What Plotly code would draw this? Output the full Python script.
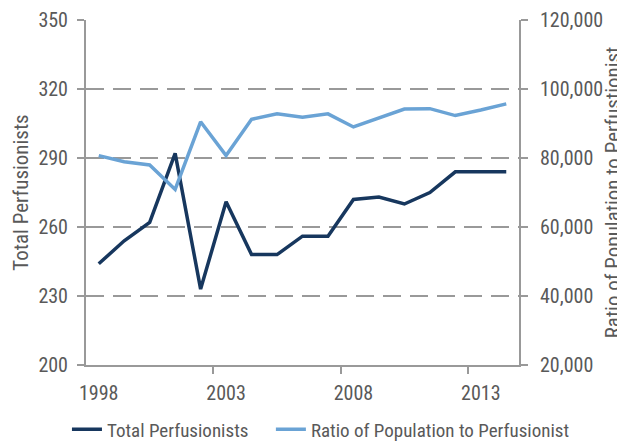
import plotly.graph_objects as go

years = list(range(1998, 2015))
total_perfusionists = [244, 254, 262, 292, 233, 271, 248, 248, 256, 256, 272, 273, 270, 275, 284, 284, 284]
ratio_pop_to_perf = [80700, 78900, 78000, 70900, 90500, 80700, 91200, 92800, 91800, 92800,
                     89000, 91500, 94200, 94300, 92300, 93900, 95700]
x_tick_labels = ["1998", "2003", "2008", "2013"]
left_ticks = [200, 230, 260, 290, 320, 350]
right_ticks = [20000, 40000, 60000, 80000, 100000, 120000]

FONT = "Roboto Condensed, Liberation Sans Narrow, sans-serif"
TXT = "#595959"
GRID = "#999999"
DARK = "#17375E"
LIGHT = "#6AA3D5"

fig = go.Figure()
fig.add_trace(go.Scatter(x=years, y=total_perfusionists, name="Total Perfusionists",
                         mode="lines", line=dict(color=DARK, width=3.5), yaxis="y",
                         legend="legend"))
fig.add_trace(go.Scatter(x=years, y=ratio_pop_to_perf, name="Ratio of Population to Perfusionist",
                         mode="lines", line=dict(color=LIGHT, width=3.5), yaxis="y2",
                         legend="legend2"))

leg_common = dict(orientation="h", yanchor="middle", y=-0.187, xanchor="left",
                  font=dict(size=19, color=TXT), itemwidth=30, bgcolor="rgba(0,0,0,0)")

# page body adds an 8px offset, so the figure is 8px smaller than the window
fig.update_layout(
    width=617, height=434,
    margin=dict(l=78, r=106, t=12, b=77, autoexpand=False),
    paper_bgcolor="white", plot_bgcolor="white",
    font=dict(family=FONT, size=20, color=TXT),
    showlegend=True,
    legend=dict(x=-0.044, **leg_common),
    legend2=dict(x=0.427, **leg_common),
    xaxis=dict(range=[1997.5, 2014.5], tickvals=[int(t) for t in x_tick_labels],
               ticktext=x_tick_labels, ticks="", showgrid=False, zeroline=False,
               showline=True, linecolor=GRID, linewidth=2, ticklabelstandoff=9,
               automargin=False,
               minor=dict(tickvals=[2002.5, 2007.5, 2012.5], ticks="outside", ticklen=7,
                          tickwidth=2, tickcolor=GRID, showgrid=False),
               tickfont=dict(size=20, color=TXT)),
    yaxis=dict(range=[200, 350], tickvals=left_ticks, ticks="outside", ticklen=7,
               tickwidth=2, tickcolor=GRID, showline=True, linecolor=GRID, linewidth=2,
               showgrid=True, gridcolor=GRID, gridwidth=2, griddash="18px,9px",
               zeroline=False, tickfont=dict(size=20, color=TXT), ticklabelstandoff=5,
               automargin=False,
               title=dict(text="Total Perfusionists", font=dict(size=21, color=TXT), standoff=4)),
    yaxis2=dict(range=[20000, 120000], tickvals=right_ticks, tickformat=",",
                overlaying="y", side="right", ticks="outside", ticklen=7, tickwidth=2,
                tickcolor=GRID, showline=True, linecolor=GRID, linewidth=2, showgrid=False,
                zeroline=False, tickfont=dict(size=20, color=TXT), ticklabelstandoff=8,
                automargin=False,
                title=dict(text="Ratio of Population to Perfustionist",
                           font=dict(size=21, color=TXT), standoff=11)),
)

fig.write_html("out.html")
